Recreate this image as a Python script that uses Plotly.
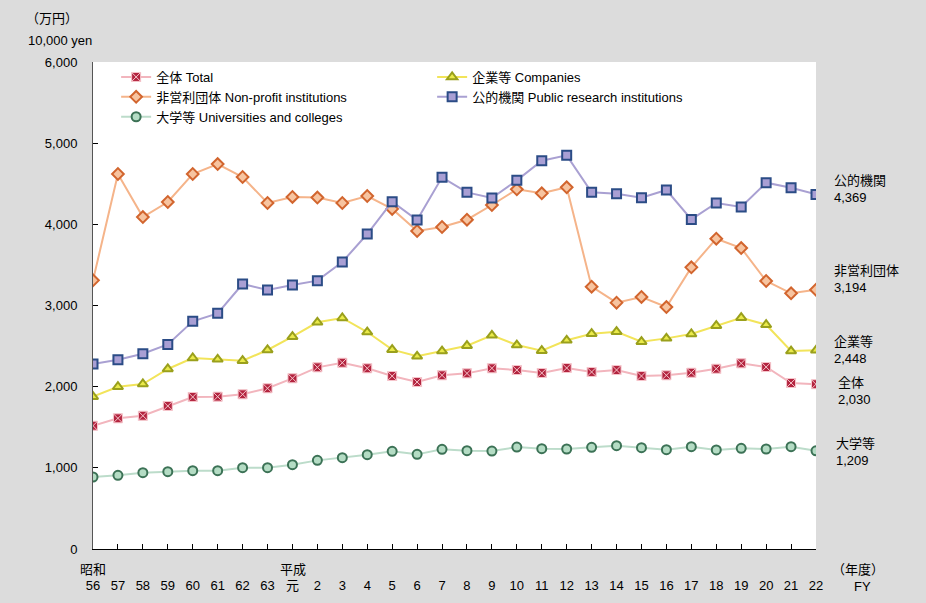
import plotly.graph_objects as go

years = ['56', '57', '58', '59', '60', '61', '62', '63', '元',
         '2', '3', '4', '5', '6', '7', '8', '9', '10', '11', '12',
         '13', '14', '15', '16', '17', '18', '19', '20', '21', '22']

total = [1519, 1610, 1642, 1762, 1873, 1877, 1906, 1980, 2103, 2238,
         2295, 2226, 2131, 2057, 2140, 2164, 2226, 2205, 2168, 2230,
         2181, 2205, 2131, 2140, 2172, 2221, 2287, 2242, 2045, 2030]
companies = [1877, 1999, 2033, 2218, 2353, 2337, 2320, 2452, 2616, 2793,
             2846, 2673, 2456, 2374, 2439, 2505, 2633, 2513, 2443, 2571,
             2653, 2677, 2554, 2595, 2649, 2751, 2850, 2763, 2439, 2448]
nonprofit = [3310, 4620, 4090, 4275, 4620, 4743, 4583, 4263, 4337, 4330,
             4263, 4349, 4190, 3918, 3967, 4057, 4238, 4431, 4382, 4456,
             3232, 3035, 3105, 2981, 3470, 3823, 3708, 3302, 3150, 3194]
public = [2279, 2332, 2406, 2521, 2805, 2903, 3265, 3191, 3252, 3306,
          3536, 3881, 4279, 4053, 4579, 4394, 4324, 4542, 4784, 4850,
          4394, 4378, 4329, 4423, 4061, 4263, 4213, 4513, 4451, 4369]
univ = [887, 908, 940, 953, 965, 965, 1002, 1002, 1039, 1092,
        1125, 1162, 1203, 1166, 1228, 1211, 1207, 1256, 1236, 1232,
        1253, 1273, 1248, 1224, 1261, 1220, 1240, 1232, 1261, 1209]

x = list(range(len(years)))
font = 'Liberation Sans, Noto Sans CJK JP, sans-serif'

# plot area in pixels
L, R, T, B = 93, 816, 62, 549


def px(xp, yp):
    return (xp - L) / (R - L), (B - yp) / (B - T)


fig = go.Figure()
# order matches the two-column legend: left, right, left, right, left
series = [
    ('全体 Total', total, '#f2b5bd', 'square-x', '#b3243f', '#f6c6cc', 1),
    ('企業等 Companies', companies, '#f2e45a', 'triangle-up', '#eaea4a', '#9aa01c', 2),
    ('非営利団体 Non-profit institutions', nonprofit, '#f5b48a', 'diamond', '#f7c4a0', '#d2652e', 2),
    ('公的機関 Public research institutions', public, '#a9a0d2', 'square', '#a99fd4', '#2b4c86', 2),
    ('大学等 Universities and colleges', univ, '#bcdcca', 'circle', '#b4dcc4', '#3c7256', 2),
]
for name, vals, lc, sym, fc, oc, lw in series:
    fig.add_trace(go.Scatter(
        x=x, y=vals, name=name, mode='lines+markers',
        line=dict(color=lc, width=2),
        marker=dict(symbol=sym, size=9, color=fc, line=dict(color=oc, width=lw)),
    ))

fig.update_layout(
    width=926, height=603,
    margin=dict(l=L, r=926 - R, t=T, b=603 - B),
    paper_bgcolor='#dcdcdc', plot_bgcolor='white',
    font=dict(family=font, size=13, color='black'),
    showlegend=True,
    legend=dict(orientation='h', x=0.032, y=1, xanchor='left', yanchor='top',
                entrywidth=271, bgcolor='rgba(0,0,0,0)', tracegroupgap=0,
                font=dict(size=13)),
    xaxis=dict(range=[0, len(years) - 1], tickmode='array', tickvals=x,
               ticktext=years, showgrid=False, zeroline=False,
               showline=True, linecolor='black', linewidth=1,
               ticks='inside', ticklen=5, tickcolor='black', automargin=False,
               ticklabelstandoff=24, tickfont=dict(size=13)),
    yaxis=dict(range=[0, 6000], tickvals=[0, 1000, 2000, 3000, 4000, 5000, 6000],
               tickformat=',', showgrid=False, zeroline=False,
               showline=True, linecolor='#555555', linewidth=1,
               ticks='inside', ticklen=5, tickcolor='black', automargin=False,
               ticklabelstandoff=12, tickfont=dict(size=13)),
)

labels = [
    (93, 569, '昭和', 'center'), (293, 569, '平成', 'center'),
    (858, 569, '（年度）', 'center'), (862, 586, 'FY', 'center'),
    (52, 18, '（万円）', 'center'), (60, 40, '10,000 yen', 'center'),
    # right-side end labels
    (832, 189, '公的機関<br>4,369', 'left'),
    (832, 279, '非営利団体<br>3,194', 'left'),
    (832, 350, '企業等<br>2,448', 'left'),
    (836, 391, '全体<br>2,030', 'left'),
    (834, 452, '大学等<br>1,209', 'left'),
]
for xp, yp, t, anc in labels:
    ax, ay = px(xp, yp)
    fig.add_annotation(x=ax, y=ay, xref='paper', yref='paper', text=t,
                       showarrow=False, xanchor=anc, yanchor='middle',
                       align='left', font=dict(size=13))

fig.write_html('out.html', config={'displayModeBar': False},
               post_script="document.body.style.margin='0';")
